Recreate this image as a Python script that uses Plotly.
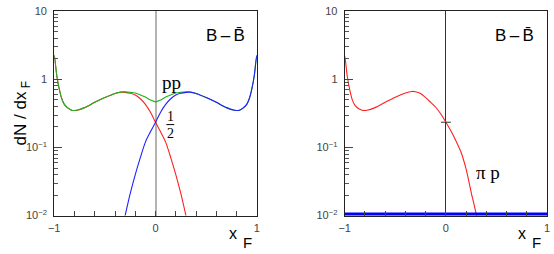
import plotly.graph_objects as go

W, H = 554, 254

# ---------------- data ----------------
x_red = [-1, -0.99, -0.975, -0.95, -0.925, -0.9, -0.86, -0.82, -0.78, -0.7,
         -0.6, -0.5, -0.4, -0.34, -0.3, -0.25, -0.2, -0.15, -0.1, -0.05,
         0, 0.05, 0.1, 0.15, 0.2, 0.25, 0.3, 0.35, 0.4]
red_pp = [2.25, 1.8, 1.15, 0.72, 0.52, 0.43, 0.375, 0.35, 0.352, 0.385,
          0.46, 0.54, 0.62, 0.65, 0.645, 0.625, 0.59, 0.52, 0.43, 0.33,
          0.234, 0.17, 0.12, 0.071, 0.04, 0.021, 0.01, 0.0045, 0.002]

x_blue = [-0.4, -0.35, -0.3, -0.25, -0.2, -0.15, -0.1, -0.05, 0, 0.05,
          0.1, 0.15, 0.2, 0.25, 0.3, 0.34, 0.4, 0.5, 0.6, 0.7,
          0.78, 0.82, 0.86, 0.9, 0.925, 0.95, 0.975, 0.99, 1]
blue_pp = [0.002, 0.0045, 0.01, 0.021, 0.04, 0.071, 0.12, 0.17, 0.234, 0.33,
           0.43, 0.52, 0.59, 0.625, 0.645, 0.65, 0.62, 0.54, 0.46, 0.385,
           0.352, 0.35, 0.375, 0.43, 0.52, 0.72, 1.15, 1.8, 2.25]

x_green = [-1, -0.99, -0.975, -0.95, -0.925, -0.9, -0.86, -0.82, -0.78, -0.7,
           -0.6, -0.5, -0.4, -0.34, -0.3, -0.25, -0.2, -0.15, -0.1, -0.05,
           0, 0.05, 0.1, 0.15, 0.2, 0.25, 0.3, 0.34, 0.4, 0.5,
           0.6, 0.7, 0.78, 0.82, 0.86, 0.9, 0.925, 0.95, 0.975, 0.99, 1]
green_pp = [2.25, 1.8, 1.15, 0.72, 0.52, 0.43, 0.375, 0.35, 0.352, 0.385,
            0.46, 0.54, 0.622, 0.653, 0.655, 0.646, 0.63, 0.591, 0.55, 0.50,
            0.468, 0.50, 0.55, 0.591, 0.63, 0.646, 0.655, 0.653, 0.622, 0.54,
            0.46, 0.385, 0.352, 0.35, 0.375, 0.43, 0.52, 0.72, 1.15, 1.8, 2.25]

red_pip = [2.2, 1.75, 1.12, 0.7, 0.5, 0.42, 0.37, 0.35, 0.352, 0.385,
           0.46, 0.545, 0.63, 0.665, 0.66, 0.62, 0.54, 0.46, 0.39, 0.31,
           0.235, 0.175, 0.125, 0.085, 0.048, 0.022, 0.0105, 0.004, 0.0015]
x_blue_pip = [-1, 1]
blue_pip = [0.01, 0.01]

x_tickvals = [-1, -0.8, -0.6, -0.4, -0.2, 0, 0.2, 0.4, 0.6, 0.8, 1]
x_ticktext = ["\u22121", " ", " ", " ", " ", "0", " ", " ", " ", " ", "1"]
y_tickvals = [0.01, 0.1, 1, 10]
y_ticktext = ["10<sup>\u22122</sup>", "10<sup>\u22121</sup>", "1", "10"]
y_minor = [m * d for d in (0.01, 0.1, 1) for m in range(2, 10)]

# ---------------- figure ----------------
fig = go.Figure()
lw = 1.1
fig.add_trace(go.Scatter(x=x_red, y=red_pp, mode="lines", line=dict(color="#ff2020", width=lw, shape="spline", smoothing=0.8), xaxis="x", yaxis="y"))
fig.add_trace(go.Scatter(x=x_green, y=green_pp, mode="lines", line=dict(color="#20b020", width=lw, shape="spline", smoothing=0.8), xaxis="x", yaxis="y"))
fig.add_trace(go.Scatter(x=x_blue, y=blue_pp, mode="lines", line=dict(color="#2020ff", width=lw, shape="spline", smoothing=0.8), xaxis="x", yaxis="y"))

fig.add_trace(go.Scatter(x=x_red, y=red_pip, mode="lines", line=dict(color="#ff2020", width=lw, shape="spline", smoothing=0.8), xaxis="x2", yaxis="y2"))
fig.add_trace(go.Scatter(x=[x_red[20]], y=[red_pip[20]], mode="markers", marker=dict(symbol="line-ew", size=7, line=dict(color="#333", width=1)), xaxis="x2", yaxis="y2"))
fig.add_trace(go.Scatter(x=x_blue_pip, y=blue_pip, mode="lines", line=dict(color="#0000ff", width=6), xaxis="x2", yaxis="y2"))

tickfont = dict(family="Liberation Sans", size=11, color="#444")
ydom = [(254 - 220) / H, (254 - 5.5) / H]

def xax(domain, zc, zw, anchor):
    return dict(domain=domain, range=[-1, 1], tickvals=x_tickvals, ticktext=x_ticktext,
                ticks="inside", ticklen=5, tickcolor="#444", showline=True, mirror=True,
                linecolor="#222", linewidth=1, showgrid=False, zeroline=True,
                zerolinecolor=zc, zerolinewidth=zw, tickfont=tickfont, anchor=anchor,
                ticklabeloverflow="allow", ticklabelstandoff=2)

def yax(domain, anchor):
    return dict(domain=domain, type="log", range=[-2, 1.0005], tickvals=y_tickvals, ticktext=y_ticktext,
                ticks="inside", ticklen=8, tickcolor="#444", showline=True, mirror=True,
                linecolor="#222", linewidth=1, showgrid=False, zeroline=False,
                tickfont=tickfont, anchor=anchor, ticklabeloverflow="allow", ticklabelstandoff=4,
                minor=dict(tickvals=y_minor, ticks="inside", ticklen=4, tickcolor="#555", showgrid=False))

fig.update_layout(
    width=W, height=H, margin=dict(l=0, r=0, t=0, b=0),
    paper_bgcolor="white", plot_bgcolor="white", showlegend=False,
    xaxis=xax([49 / W, 255 / W], "#b4b4b4", 2, "y"), yaxis=yax(ydom, "x"),
    xaxis2=xax([344.3 / W, 550 / W], "#333", 1, "y2"), yaxis2=yax(ydom, "x2"),
)

def ann(text, px, py, size, family="Liberation Sans", color="black", angle=0, xanchor="center", yanchor="middle"):
    fig.add_annotation(text=text, x=px / W, y=1 - py / H, xref="paper", yref="paper",
                       showarrow=False, font=dict(family=family, size=size, color=color),
                       textangle=angle, xanchor=xanchor, yanchor=yanchor)

bb = "B\u2009\u2013\u2009B\u0304"
ann(bb, 223, 31, 17)
ann(bb, 517, 31, 17)
ann("pp", 168, 80, 19, family="Liberation Serif")
ann("1", 167, 116, 14, family="Liberation Serif")
ann("2", 167, 134, 14, family="Liberation Serif")
fig.add_shape(type="line", x0=163 / W, x1=171 / W, y0=1 - 124.5 / H, y1=1 - 124.5 / H,
              xref="paper", yref="paper", line=dict(color="black", width=1))
ann("\u03c0 p", 490, 175, 19, family="Liberation Serif")
ann("dN / dx<sub> F</sub>", 16, 113, 17, angle=-90)
for x0 in (231, 525):
    ann("x", x0, 239, 16)
    ann("F", x0 + 14, 248, 15)

fig.write_html("out.html", config={"displayModeBar": False},
               post_script="document.body.style.margin='0';document.body.style.overflow='hidden';")
